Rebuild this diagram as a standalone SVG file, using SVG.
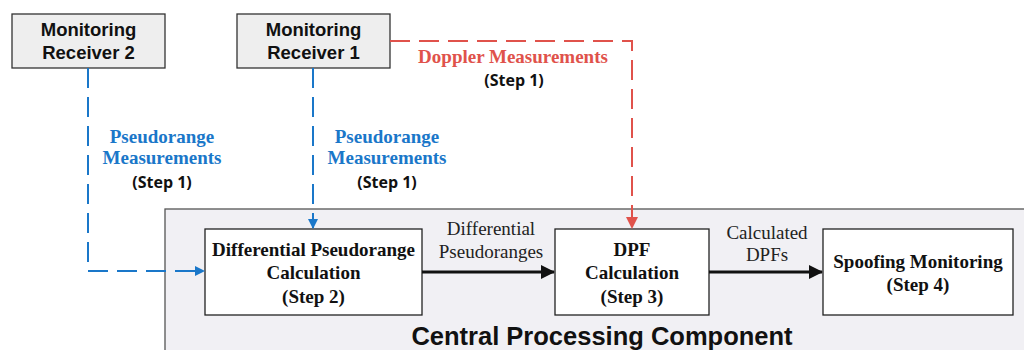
<svg xmlns="http://www.w3.org/2000/svg" width="1024" height="350" viewBox="0 0 1024 350">
  <style>
    .recv { fill: #eeeeee; stroke: #333333; stroke-width: 1.3; }
    .proc { fill: #ffffff; stroke: #222222; stroke-width: 1.3; }
    .cpc { fill: #f1f0f4; stroke: #555555; stroke-width: 1.3; }
    .rtxt { font-family: "Liberation Sans", Arial, sans-serif; font-weight: bold; font-size: 18.5px; fill: #111111; text-anchor: middle; }
    .ptxt { font-family: "Liberation Serif", "Times New Roman", serif; font-weight: bold; font-size: 19px; fill: #111111; text-anchor: middle; }
    .etxt { font-family: "Liberation Serif", "Times New Roman", serif; font-size: 19px; fill: #222222; text-anchor: middle; }
    .blue { font-family: "Liberation Serif", "Times New Roman", serif; font-weight: bold; font-size: 19px; fill: #1a77c9; text-anchor: middle; }
    .red { font-family: "Liberation Serif", "Times New Roman", serif; font-weight: bold; font-size: 19px; fill: #e0524b; text-anchor: middle; }
    .step { font-family: "Open Sans", "Liberation Sans", sans-serif; font-weight: bold; font-size: 16px; fill: #111111; text-anchor: middle; }
    .big { font-family: "Liberation Sans", Arial, sans-serif; font-weight: bold; font-size: 25.5px; fill: #111111; text-anchor: middle; }
    .dblue { fill: none; stroke: #1a77c9; stroke-width: 2; stroke-dasharray: 20 9; }
    .dred { fill: none; stroke: #e0524b; stroke-width: 2; stroke-dasharray: 20 9; }
    .solid { fill: none; stroke: #111111; stroke-width: 3; }
  </style>
  <defs>
    <pattern id="grid" width="3" height="3" patternUnits="userSpaceOnUse">
      <rect width="3" height="3" fill="#f3f2f6"/>
      <path d="M0 0.5H3M0.5 0V3" stroke="#e4e3ea" stroke-width="1"/>
    </pattern>
    <pattern id="grid2" width="3" height="3" patternUnits="userSpaceOnUse">
      <rect width="3" height="3" fill="#f0f0f0"/>
      <path d="M0 0.5H3M0.5 0V3" stroke="#e2e2e2" stroke-width="1"/>
    </pattern>
    <marker id="ahBlue" markerWidth="10" markerHeight="10" refX="9" refY="5" orient="auto" markerUnits="userSpaceOnUse">
      <path d="M0 0L10 5L0 10Z" fill="#1a77c9"/>
    </marker>
    <marker id="ahRed" markerWidth="12" markerHeight="12" refX="11" refY="6" orient="auto" markerUnits="userSpaceOnUse">
      <path d="M0 0L12 6L0 12Z" fill="#e0524b"/>
    </marker>
    <marker id="ahBlack" markerWidth="14" markerHeight="14" refX="13" refY="7" orient="auto" markerUnits="userSpaceOnUse">
      <path d="M0 0L14 7L0 14Z" fill="#111111"/>
    </marker>
  </defs>

  <!-- container for the processing steps -->
  <g id="central-processing">
    <rect class="cpc" x="165" y="209" width="870" height="150" fill="url(#grid)"/>
    <text class="big" x="602" y="345">Central Processing Component</text>
  </g>

  <g id="receiver-2">
    <rect class="recv" x="12" y="14" width="153" height="54" fill="url(#grid2)"/>
    <text class="rtxt" x="88.5" y="36">Monitoring</text>
    <text class="rtxt" x="88.5" y="59">Receiver 2</text>
  </g>

  <g id="receiver-1">
    <rect class="recv" x="237" y="14" width="153" height="54" fill="url(#grid2)"/>
    <text class="rtxt" x="313.5" y="36">Monitoring</text>
    <text class="rtxt" x="313.5" y="59">Receiver 1</text>
  </g>

  <g id="diff-pseudorange">
    <rect class="proc" x="205" y="229" width="217" height="86"/>
    <text class="ptxt" x="313.5" y="256">Differential Pseudorange</text>
    <text class="ptxt" x="313.5" y="279">Calculation</text>
    <text class="ptxt" x="313.5" y="303">(Step 2)</text>
  </g>

  <g id="dpf-calc">
    <rect class="proc" x="555" y="229" width="154" height="86"/>
    <text class="ptxt" x="632" y="256">DPF</text>
    <text class="ptxt" x="632" y="279">Calculation</text>
    <text class="ptxt" x="632" y="303">(Step 3)</text>
  </g>

  <g id="spoofing-monitoring">
    <rect class="proc" x="823" y="229" width="190" height="86"/>
    <text class="ptxt" x="918" y="268">Spoofing Monitoring</text>
    <text class="ptxt" x="918" y="291">(Step 4)</text>
  </g>

  <g id="connectors">
    <path class="dblue" d="M88 68V271H204" marker-end="url(#ahBlue)"/>
    <path class="dblue" d="M313 68V228" marker-end="url(#ahBlue)"/>
    <path class="dred" d="M390 41H632V228" marker-end="url(#ahRed)"/>
    <path class="solid" d="M422 272H554" marker-end="url(#ahBlack)"/>
    <path class="solid" d="M709 272H822" marker-end="url(#ahBlack)"/>

    <text class="blue" x="162" y="143">Pseudorange</text>
    <text class="blue" x="162" y="164">Measurements</text>
    <text class="step" x="162" y="188">(Step 1)</text>

    <text class="blue" x="387" y="143">Pseudorange</text>
    <text class="blue" x="387" y="164">Measurements</text>
    <text class="step" x="387" y="188">(Step 1)</text>

    <text class="red" x="513" y="63">Doppler Measurements</text>
    <text class="step" x="514" y="86">(Step 1)</text>

    <text class="etxt" x="491" y="235">Differential</text>
    <text class="etxt" x="491" y="258">Pseudoranges</text>

    <text class="etxt" x="767" y="239">Calculated</text>
    <text class="etxt" x="767" y="261">DPFs</text>
  </g>
</svg>
